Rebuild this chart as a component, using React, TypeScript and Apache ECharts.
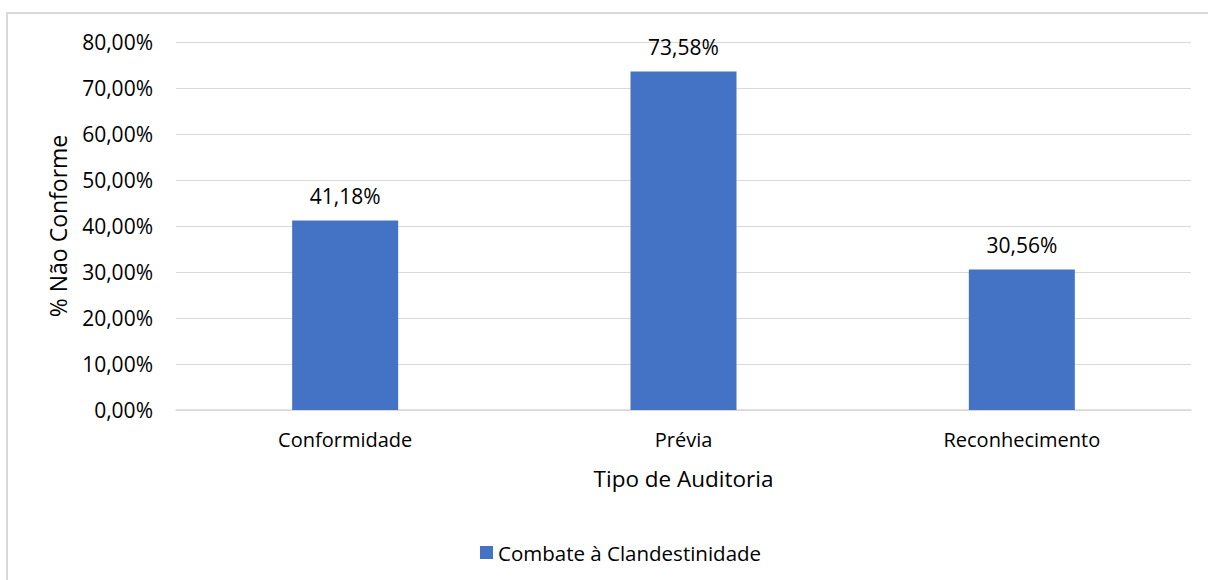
import React, { useEffect, useRef } from "react";
import * as echarts from "echarts";

// Audit types and the share of non-conforming items per type (%)
const categories = ["Conformidade", "Prévia", "Reconhecimento"];
const values = [41.18, 73.58, 30.56];
const seriesName = "Combate à Clandestinidade";
const xTitle = "Tipo de Auditoria";
const yTitle = "% Não Conforme";

const FONT = "'Open Sans', Lato, sans-serif";
const fmt = (v: number) => v.toFixed(2).replace(".", ",") + "%";

export default function App() {
  const ref = useRef<HTMLDivElement>(null);

  useEffect(() => {
    document.body.style.margin = "0";
    if (!ref.current) return;
    const chart = echarts.init(ref.current, undefined, { renderer: "svg" });
    chart.setOption({
      animation: false,
      backgroundColor: "#ffffff",
      textStyle: { fontFamily: FONT, color: "#000" },
      graphic: [
        {
          type: "rect",
          shape: { x: 7, y: 13, width: 1400, height: 800 },
          style: { fill: "none", stroke: "#d9d9d9", lineWidth: 2 },
          silent: true,
        },
      ],
      grid: { left: 176, right: 17, top: 42, bottom: 170 },
      legend: {
        left: 475,
        top: 537,
        itemWidth: 13,
        itemHeight: 13,
        icon: "rect",
        textStyle: { fontFamily: FONT, fontSize: 20.5, color: "#000" },
        data: [seriesName],
      },
      xAxis: {
        type: "category",
        data: categories,
        name: xTitle,
        nameLocation: "middle",
        nameGap: 57,
        nameTextStyle: { fontFamily: FONT, fontSize: 22.5, color: "#000" },
        axisLine: { lineStyle: { color: "#d9d9d9", width: 1.5 } },
        axisTick: { show: false },
        axisLabel: { fontFamily: FONT, fontSize: 20, color: "#000", margin: 19 },
      },
      yAxis: {
        type: "value",
        min: 0,
        max: 80,
        interval: 10,
        name: yTitle,
        nameLocation: "middle",
        nameGap: 107,
        nameTextStyle: { fontFamily: FONT, fontSize: 23, color: "#000" },
        axisLine: { show: false },
        axisTick: { show: false },
        splitLine: { lineStyle: { color: "#d9d9d9", width: 1.2 } },
        axisLabel: {
          fontFamily: FONT,
          fontSize: 21,
          color: "#000",
          margin: 23,
          formatter: (v: number) => fmt(v),
        },
      },
      series: [
        {
          name: seriesName,
          type: "bar",
          data: values,
          barWidth: 106,
          itemStyle: { color: "#4472C4" },
          label: {
            show: true,
            position: "top",
            distance: 14,
            fontFamily: FONT,
            fontSize: 21,
            color: "#000",
            formatter: (p: any) => fmt(p.value),
          },
        },
      ],
    });
    return () => chart.dispose();
  }, []);

  return <div ref={ref} style={{ width: 1208, height: 580 }} />;
}
